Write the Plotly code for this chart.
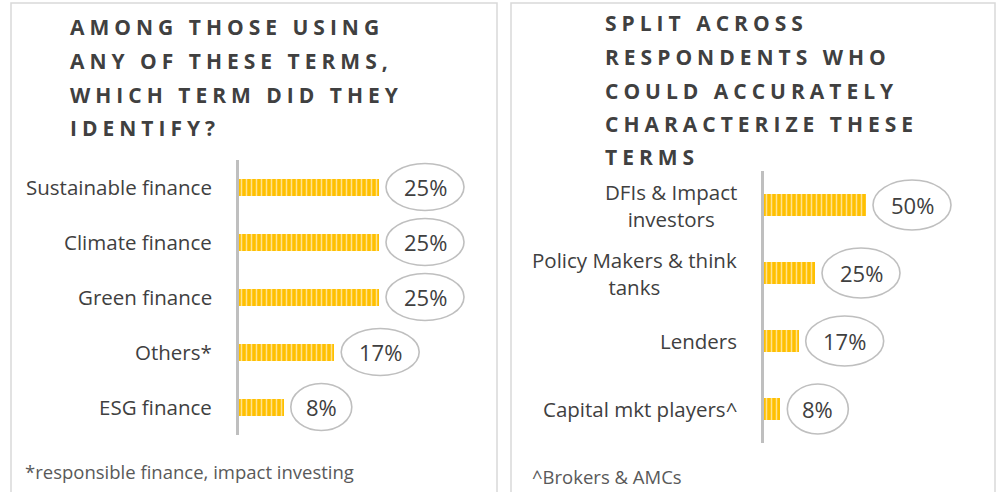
import plotly.graph_objects as go

# ---- data ----
left_categories = ["Sustainable finance", "Climate finance", "Green finance", "Others*", "ESG finance"]
left_values = [25, 25, 25, 17, 8]
left_labels = ["25%", "25%", "25%", "17%", "8%"]

right_categories = ["DFIs & Impact<br>investors", "Policy Makers & think<br>tanks", "Lenders", "Capital mkt players^"]
right_values = [50, 25, 17, 8]
right_labels = ["50%", "25%", "17%", "8%"]

left_title = ["AMONG THOSE USING", "ANY OF THESE TERMS,", "WHICH TERM DID THEY", "IDENTIFY?"]
right_title = ["SPLIT ACROSS", "RESPONDENTS WHO", "COULD ACCURATELY", "CHARACTERIZE THESE", "TERMS"]
left_note = "*responsible finance, impact investing"
right_note = "^Brokers & AMCs"

W, H = 998, 492
def px(x):
    return x / W
def py(y):
    return 1 - y / H

BAR = "#FFC000"
STRIPE = "#FFE38F"
TXT = "#404040"
GRID = "#BFBFBF"
FONT = "Open Sans"

fig = go.Figure()

pattern = dict(shape="|", fgcolor=STRIPE, fgopacity=1, size=5, solidity=0.3)

fig.add_trace(go.Bar(
    x=left_values, y=left_categories, orientation="h",
    marker=dict(color=BAR, line=dict(width=0), pattern=pattern),
    width=0.31, xaxis="x", yaxis="y", hoverinfo="skip", showlegend=False))
fig.add_trace(go.Bar(
    x=right_values, y=right_categories, orientation="h",
    marker=dict(color=BAR, line=dict(width=0), pattern=pattern),
    width=0.31, xaxis="x2", yaxis="y2", hoverinfo="skip", showlegend=False))

annotations = []
shapes = []

# panel borders
for x0, x1 in [(11, 497), (511, 995)]:
    shapes.append(dict(type="rect", xref="paper", yref="paper",
                       x0=px(x0), x1=px(x1), y0=py(500), y1=py(3),
                       line=dict(color="#D9D9D9", width=1.5), fillcolor="rgba(0,0,0,0)", layer="below"))

def add_panel(cats, vals, labs, xref, yref, ell_h):
    for i, (c, v, lab) in enumerate(zip(cats, vals, labs)):
        annotations.append(dict(text=c, x=0, y=c, xref=xref, yref=yref,
                                xanchor="right", yanchor="middle", align="center",
                                xshift=-25, showarrow=False,
                                font=dict(family=FONT, size=20.5, color=TXT)))
        w = 78 if len(lab) >= 3 else 61
        gap = 7
        shapes.append(dict(type="circle", xref=xref, yref=yref,
                           xsizemode="pixel", ysizemode="pixel",
                           xanchor=v, yanchor=i,
                           x0=gap, x1=gap + w, y0=-ell_h / 2, y1=ell_h / 2,
                           line=dict(color=GRID, width=1.6), fillcolor="white"))
        annotations.append(dict(text=lab, x=v, y=c, xref=xref, yref=yref,
                                xanchor="center", yanchor="middle",
                                xshift=gap + w / 2, showarrow=False,
                                font=dict(family=FONT, size=22, color=TXT)))

add_panel(left_categories, left_values, left_labels, "x", "y", 47)
add_panel(right_categories, right_values, right_labels, "x2", "y2", 50)

def add_title(lines, x, ys):
    for line, y in zip(lines, ys):
        annotations.append(dict(
            text='<span style="letter-spacing:5px">' + line + '</span>',
            x=px(x), y=py(y), xref="paper", yref="paper",
            xanchor="left", yanchor="middle", showarrow=False,
            font=dict(family=FONT, size=21, color=TXT, weight=700)))

add_title(left_title, 68, [27, 61, 95, 128])
add_title(right_title, 603, [23, 57, 91, 124, 157])

annotations.append(dict(text=left_note, x=px(23), y=py(471), xref="paper", yref="paper",
                        xanchor="left", yanchor="middle", showarrow=False,
                        font=dict(family=FONT, size=18.5, color="#595959")))
annotations.append(dict(text=right_note, x=px(530), y=py(476), xref="paper", yref="paper",
                        xanchor="left", yanchor="middle", showarrow=False,
                        font=dict(family=FONT, size=18.5, color="#595959")))

fig.update_layout(
    width=W, height=H, autosize=False,
    margin=dict(l=0, r=0, t=0, b=0),
    paper_bgcolor="white", plot_bgcolor="rgba(0,0,0,0)",
    bargap=0,
    xaxis=dict(domain=[px(239), px(470)], range=[0, (470 - 239) / 5.6],
               visible=False, fixedrange=True),
    yaxis=dict(domain=[py(434.5), py(159.5)], type="category",
               categoryorder="array", categoryarray=left_categories,
               autorange="reversed", showticklabels=False, ticks="",
               showgrid=False, zeroline=False,
               showline=True, linecolor=GRID, linewidth=3, anchor="x"),
    xaxis2=dict(domain=[px(764), px(990)], range=[0, (990 - 764) / 2.04],
                visible=False, fixedrange=True, anchor="y2"),
    yaxis2=dict(domain=[py(443), py(171)], type="category",
                categoryorder="array", categoryarray=right_categories,
                autorange="reversed", showticklabels=False, ticks="",
                showgrid=False, zeroline=False,
                showline=True, linecolor=GRID, linewidth=3, anchor="x2"),
    annotations=annotations,
    shapes=shapes,
)

fig.write_html("out.html",
               config={"displayModeBar": False},
               post_script="document.body.style.margin='0';document.body.style.overflow='hidden';")
